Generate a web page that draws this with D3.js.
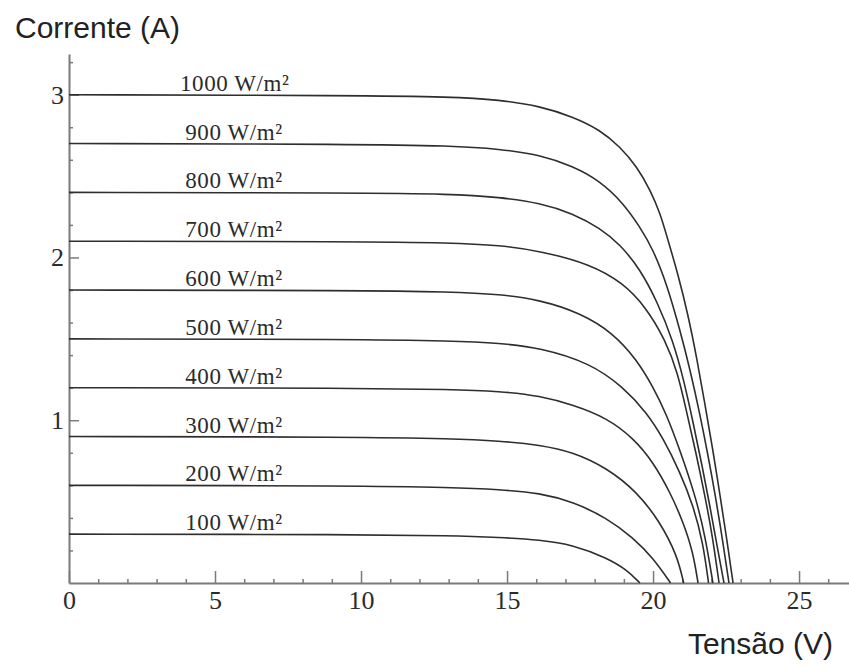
<!DOCTYPE html>
<html>
<head>
<meta charset="utf-8">
<script src="https://cdn.jsdelivr.net/npm/d3@7"></script>
<style>
  body { margin: 0; background: #fff; }
</style>
</head>
<body>
<script>
// I-V curves of a PV module for different irradiance levels
// Horizontal Axis => Tensão (V)
// Vertical Axis => Corrente (A)

var irradiance = [1000, 900, 800, 700, 600, 500, 400, 300, 200, 100];

// points: [tensão, corrente]
var curve1000 = [[0, 3.0], [10, 2.995], [13.05, 2.987], [14.76, 2.968], [16.13, 2.93], [17.26, 2.864], [18.18, 2.784], [18.87, 2.68], [19.45, 2.557], [19.9, 2.415], [20.24, 2.274], [20.51, 2.108], [20.86, 1.893], [21.2, 1.647], [21.51, 1.371], [21.78, 1.094], [22.05, 0.817], [22.29, 0.541], [22.53, 0.264], [22.74, 0]];
var curve900 = [[0, 2.7], [10, 2.696], [13.05, 2.686], [14.76, 2.666], [16.13, 2.63], [17.26, 2.56], [18.18, 2.47], [18.97, 2.336], [19.55, 2.188], [20.0, 2.05], [20.48, 1.832], [20.92, 1.555], [21.27, 1.309], [21.61, 1.033], [21.88, 0.787], [22.16, 0.51], [22.38, 0.264], [22.6, 0]];
var curve800 = [[0, 2.4], [10, 2.396], [13.05, 2.39], [14.76, 2.37], [16.13, 2.335], [17.26, 2.27], [18.18, 2.18], [18.87, 2.08], [19.55, 1.93], [20.14, 1.73], [20.68, 1.49], [21.05, 1.25], [21.38, 0.98], [21.68, 0.72], [21.95, 0.47], [22.2, 0.22], [22.43, 0]];
var curve700 = [[0, 2.1], [10, 2.097], [13.05, 2.09], [14.76, 2.075], [16.13, 2.04], [17.84, 1.96], [18.97, 1.844], [19.75, 1.696], [20.42, 1.494], [20.85, 1.29], [21.15, 1.05], [21.47, 0.8], [21.77, 0.541], [22.03, 0.295], [22.26, 0]];
var curve600 = [[0, 1.8], [10, 1.797], [13.05, 1.789], [14.76, 1.774], [16.13, 1.739], [17.5, 1.66], [18.63, 1.537], [19.45, 1.37], [20.0, 1.205], [20.45, 1.04], [20.92, 0.817], [21.44, 0.541], [21.78, 0.295], [22.05, 0]];
var curve500 = [[0, 1.5], [10, 1.497], [13.05, 1.487], [14.76, 1.474], [16.13, 1.445], [17.84, 1.352], [18.97, 1.205], [19.79, 1.045], [20.34, 0.891], [20.92, 0.682], [21.37, 0.479], [21.71, 0.25], [21.9, 0]];
var curve400 = [[0, 1.2], [10, 1.197], [13.05, 1.19], [14.76, 1.178], [16.13, 1.15], [17.26, 1.094], [18.42, 1.014], [19.32, 0.891], [20.0, 0.744], [20.58, 0.559], [21.03, 0.375], [21.37, 0.19], [21.54, 0]];
var curve300 = [[0, 0.9], [10, 0.897], [13.05, 0.887], [14.76, 0.873], [16.13, 0.848], [17.26, 0.805], [18.42, 0.707], [19.45, 0.56], [20.24, 0.375], [20.82, 0.172], [21.05, 0]];
var curve200 = [[0, 0.6], [10, 0.597], [13.05, 0.587], [14.76, 0.574], [16.13, 0.553], [17.26, 0.498], [18.42, 0.40], [19.32, 0.277], [20.0, 0.154], [20.6, 0]];
var curve100 = [[0, 0.3], [10, 0.298], [13.05, 0.291], [14.76, 0.28], [16.13, 0.265], [17.26, 0.234], [18.42, 0.154], [19.11, 0.08], [19.55, 0]];

var curves = [curve1000, curve900, curve800, curve700, curve600, curve500, curve400, curve300, curve200, curve100];

var xTicks = [0, 5, 10, 15, 20, 25];
var yTicks = [1, 2, 3];

// set the dimensions and margins of the graph
var margin = { top: 54, right: 0, bottom: 83, left: 69 },
    width = 849 - margin.left - margin.right,
    height = 666 - margin.top - margin.bottom;

var svg = d3.select("body")
    .append("svg")
    .attr("width", 849)
    .attr("height", 666)
    .append("g")
    .attr("transform", "translate(" + margin.left + "," + margin.top + ")");

// ---------------------------//
//       AXIS  AND SCALE      //
// ---------------------------//

var x = d3.scaleLinear()
    .domain([0, 26.71])
    .range([0, width]);

var y = d3.scaleLinear()
    .domain([0, 3.25])
    .range([height, 0]);

var axisColor = "#7a7a7a";
var serif = "'Liberation Serif', 'DejaVu Serif', serif";
var sans = "'Liberation Sans', Arial, sans-serif";

// minor ticks, x
var xMinor = d3.range(1, 27).filter(function(d) { return d % 5 !== 0; });
svg.append("g")
    .attr("transform", "translate(0," + height + ")")
    .call(d3.axisBottom(x).tickValues(xMinor).tickSizeInner(-4).tickSizeOuter(0).tickFormat(""))
    .call(function(g) { g.select(".domain").remove(); })
    .selectAll("line").attr("stroke", axisColor).attr("stroke-width", 1.5);

// X axis
var gx = svg.append("g")
    .attr("transform", "translate(0," + height + ")")
    .call(d3.axisBottom(x).tickValues(xTicks).tickSizeInner(-12).tickSizeOuter(0).tickPadding(8));
gx.select(".domain").attr("stroke", axisColor).attr("stroke-width", 2);
gx.selectAll(".tick line").attr("stroke", axisColor).attr("stroke-width", 1.5);
gx.selectAll(".tick text")
    .style("font-family", serif)
    .style("font-size", "26px")
    .attr("fill", "#2b2b2b");

// minor ticks, y
var yMinor = d3.range(1, 17).map(function(d) { return d * 0.2; })
    .filter(function(d) { return Math.abs(d - Math.round(d)) > 0.01; });
svg.append("g")
    .call(d3.axisLeft(y).tickValues(yMinor).tickSizeInner(-4).tickSizeOuter(0).tickFormat(""))
    .call(function(g) { g.select(".domain").remove(); })
    .selectAll("line").attr("stroke", axisColor).attr("stroke-width", 1.5);

// Y axis
var gy = svg.append("g")
    .call(d3.axisLeft(y).tickValues(yTicks).tickFormat(d3.format("d"))
        .tickSizeInner(-10).tickSizeOuter(0).tickPadding(5));
gy.select(".domain").attr("stroke", axisColor).attr("stroke-width", 2);
gy.selectAll(".tick line").attr("stroke", axisColor).attr("stroke-width", 1.5);
gy.selectAll(".tick text")
    .style("font-family", serif)
    .style("font-size", "26px")
    .attr("fill", "#2b2b2b");

// axis titles
svg.append("text")
    .attr("x", -54)
    .attr("y", -16)
    .style("font-family", sans)
    .style("font-size", "30px")
    .attr("fill", "#222")
    .text("Corrente (A)");

svg.append("text")
    .attr("text-anchor", "end")
    .attr("x", 764)
    .attr("y", height + 71)
    .style("font-family", sans)
    .style("font-size", "30px")
    .attr("fill", "#222")
    .text("Tensão (V)");

// ---------------------------//
//       CURVES               //
// ---------------------------//

var line = d3.line()
    .x(function(d) { return x(d[0]); })
    .y(function(d) { return y(d[1]); })
    .curve(d3.curveBasis);

svg.append("g")
    .selectAll("path")
    .data(curves)
    .enter()
    .append("path")
    .attr("d", line)
    .attr("fill", "none")
    .attr("stroke", "#2e2e2e")
    .attr("stroke-width", 1.6);

// irradiance labels sitting on each curve
svg.append("g")
    .selectAll("text")
    .data(irradiance)
    .enter()
    .append("text")
    .attr("x", function(d, i) { return x(i === 0 ? 3.8 : 3.98); })
    .attr("y", function(d, i) { return y(curves[i][0][1]) - 4; })
    .style("font-family", serif)
    .style("font-size", "23px")
    .style("letter-spacing", "0.6px")
    .attr("fill", "#2b2b2b")
    .text(function(d) { return d + " W/m²"; });
</script>
</body>
</html>
